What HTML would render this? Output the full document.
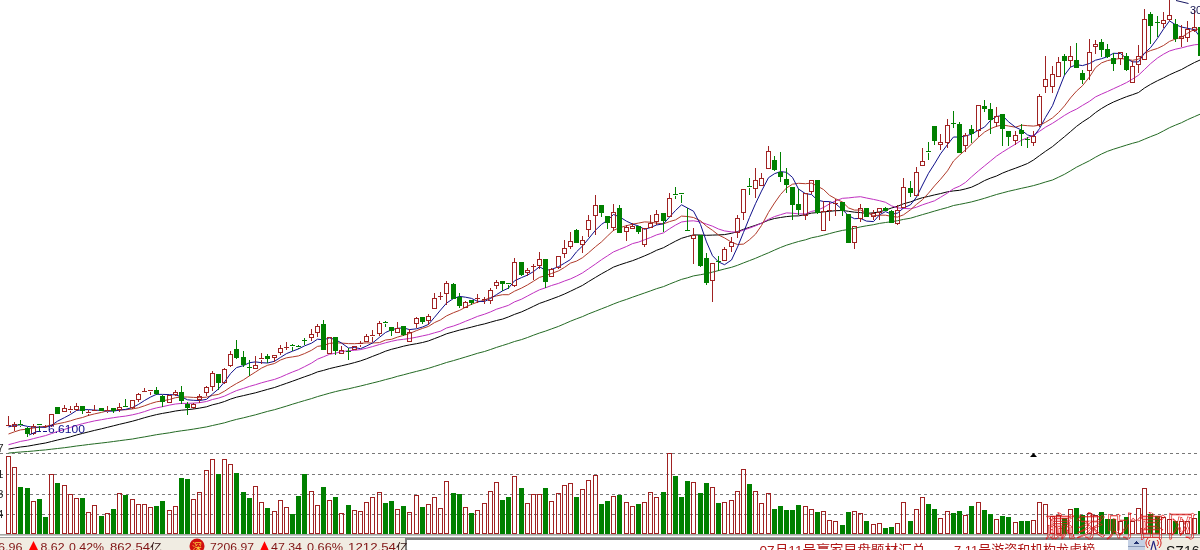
<!DOCTYPE html>
<html><head><meta charset="utf-8"><title>K线图</title>
<style>html,body{margin:0;padding:0;background:#fff;overflow:hidden}svg{display:block}</style>
</head><body>
<svg width="1200" height="550" viewBox="0 0 1200 550">
<rect x="0" y="0" width="1200" height="550" fill="#ffffff"/>
<g stroke="#787878" stroke-width="1" stroke-dasharray="3 3" shape-rendering="crispEdges">
<line x1="0" y1="453.5" x2="1200" y2="453.5"/>
<line x1="0" y1="474.5" x2="1200" y2="474.5"/>
<line x1="0" y1="494.5" x2="1200" y2="494.5"/>
<line x1="0" y1="514.5" x2="1200" y2="514.5"/>
</g>
<g shape-rendering="crispEdges">
<rect x="6.5" y="456.5" width="4" height="77" fill="none" stroke="#a02222" stroke-width="1"/>
<rect x="12.5" y="467.5" width="4" height="66" fill="none" stroke="#a02222" stroke-width="1"/>
<rect x="18" y="487" width="5" height="47" fill="#008000"/>
<rect x="25" y="488" width="5" height="46" fill="#008000"/>
<rect x="31.5" y="501.5" width="4" height="32" fill="none" stroke="#a02222" stroke-width="1"/>
<rect x="37" y="499" width="5" height="35" fill="#008000"/>
<rect x="43" y="517" width="5" height="17" fill="#008000"/>
<rect x="49.5" y="474.5" width="4" height="59" fill="none" stroke="#a02222" stroke-width="1"/>
<rect x="55" y="483" width="5" height="51" fill="#008000"/>
<rect x="62.5" y="485.5" width="4" height="48" fill="none" stroke="#a02222" stroke-width="1"/>
<rect x="68.5" y="494.5" width="4" height="39" fill="none" stroke="#a02222" stroke-width="1"/>
<rect x="74.5" y="498.5" width="4" height="35" fill="none" stroke="#a02222" stroke-width="1"/>
<rect x="80" y="498" width="5" height="36" fill="#008000"/>
<rect x="86.5" y="512.5" width="4" height="21" fill="none" stroke="#a02222" stroke-width="1"/>
<rect x="92.5" y="505.5" width="4" height="28" fill="none" stroke="#a02222" stroke-width="1"/>
<rect x="99" y="516" width="5" height="18" fill="#008000"/>
<rect x="105.5" y="513.5" width="4" height="20" fill="none" stroke="#a02222" stroke-width="1"/>
<rect x="111" y="509" width="5" height="25" fill="#008000"/>
<rect x="117.5" y="493.5" width="4" height="40" fill="none" stroke="#a02222" stroke-width="1"/>
<rect x="123" y="495" width="5" height="39" fill="#008000"/>
<rect x="130.5" y="499.5" width="4" height="34" fill="none" stroke="#a02222" stroke-width="1"/>
<rect x="136.5" y="504.5" width="4" height="29" fill="none" stroke="#a02222" stroke-width="1"/>
<rect x="142.5" y="504.5" width="4" height="29" fill="none" stroke="#a02222" stroke-width="1"/>
<rect x="148.5" y="507.5" width="4" height="26" fill="none" stroke="#a02222" stroke-width="1"/>
<rect x="154" y="506" width="5" height="28" fill="#008000"/>
<rect x="160" y="501" width="5" height="33" fill="#008000"/>
<rect x="167.5" y="510.5" width="4" height="23" fill="none" stroke="#a02222" stroke-width="1"/>
<rect x="173.5" y="506.5" width="4" height="27" fill="none" stroke="#a02222" stroke-width="1"/>
<rect x="179" y="478" width="5" height="56" fill="#008000"/>
<rect x="185" y="479" width="5" height="55" fill="#008000"/>
<rect x="191.5" y="499.5" width="4" height="34" fill="none" stroke="#a02222" stroke-width="1"/>
<rect x="197.5" y="492.5" width="4" height="41" fill="none" stroke="#a02222" stroke-width="1"/>
<rect x="204.5" y="470.5" width="4" height="63" fill="none" stroke="#a02222" stroke-width="1"/>
<rect x="210.5" y="459.5" width="4" height="74" fill="none" stroke="#a02222" stroke-width="1"/>
<rect x="216" y="474" width="5" height="60" fill="#008000"/>
<rect x="222.5" y="459.5" width="4" height="74" fill="none" stroke="#a02222" stroke-width="1"/>
<rect x="228.5" y="464.5" width="4" height="69" fill="none" stroke="#a02222" stroke-width="1"/>
<rect x="234" y="473" width="5" height="61" fill="#008000"/>
<rect x="241" y="492" width="5" height="42" fill="#008000"/>
<rect x="247" y="498" width="5" height="36" fill="#008000"/>
<rect x="253.5" y="486.5" width="4" height="47" fill="none" stroke="#a02222" stroke-width="1"/>
<rect x="259.5" y="502.5" width="4" height="31" fill="none" stroke="#a02222" stroke-width="1"/>
<rect x="265" y="508" width="5" height="26" fill="#008000"/>
<rect x="272.5" y="511.5" width="4" height="22" fill="none" stroke="#a02222" stroke-width="1"/>
<rect x="278.5" y="500.5" width="4" height="33" fill="none" stroke="#a02222" stroke-width="1"/>
<rect x="284.5" y="507.5" width="4" height="26" fill="none" stroke="#a02222" stroke-width="1"/>
<rect x="290" y="514" width="5" height="20" fill="#008000"/>
<rect x="296" y="496" width="5" height="38" fill="#008000"/>
<rect x="302" y="474" width="5" height="60" fill="#008000"/>
<rect x="309.5" y="491.5" width="4" height="42" fill="none" stroke="#a02222" stroke-width="1"/>
<rect x="315.5" y="505.5" width="4" height="28" fill="none" stroke="#a02222" stroke-width="1"/>
<rect x="321" y="487" width="5" height="47" fill="#008000"/>
<rect x="327.5" y="500.5" width="4" height="33" fill="none" stroke="#a02222" stroke-width="1"/>
<rect x="333" y="497" width="5" height="37" fill="#008000"/>
<rect x="339.5" y="513.5" width="4" height="20" fill="none" stroke="#a02222" stroke-width="1"/>
<rect x="346" y="505" width="5" height="29" fill="#008000"/>
<rect x="352.5" y="510.5" width="4" height="23" fill="none" stroke="#a02222" stroke-width="1"/>
<rect x="358.5" y="511.5" width="4" height="22" fill="none" stroke="#a02222" stroke-width="1"/>
<rect x="364.5" y="502.5" width="4" height="31" fill="none" stroke="#a02222" stroke-width="1"/>
<rect x="370.5" y="497.5" width="4" height="36" fill="none" stroke="#a02222" stroke-width="1"/>
<rect x="377.5" y="492.5" width="4" height="41" fill="none" stroke="#a02222" stroke-width="1"/>
<rect x="383" y="503" width="5" height="31" fill="#008000"/>
<rect x="389" y="501" width="5" height="33" fill="#008000"/>
<rect x="395.5" y="509.5" width="4" height="24" fill="none" stroke="#a02222" stroke-width="1"/>
<rect x="401" y="506" width="5" height="28" fill="#008000"/>
<rect x="407.5" y="512.5" width="4" height="21" fill="none" stroke="#a02222" stroke-width="1"/>
<rect x="414.5" y="495.5" width="4" height="38" fill="none" stroke="#a02222" stroke-width="1"/>
<rect x="420" y="507" width="5" height="27" fill="#008000"/>
<rect x="426.5" y="504.5" width="4" height="29" fill="none" stroke="#a02222" stroke-width="1"/>
<rect x="432.5" y="497.5" width="4" height="36" fill="none" stroke="#a02222" stroke-width="1"/>
<rect x="438.5" y="508.5" width="4" height="25" fill="none" stroke="#a02222" stroke-width="1"/>
<rect x="444.5" y="481.5" width="4" height="52" fill="none" stroke="#a02222" stroke-width="1"/>
<rect x="451" y="493" width="5" height="41" fill="#008000"/>
<rect x="457" y="494" width="5" height="40" fill="#008000"/>
<rect x="463.5" y="507.5" width="4" height="26" fill="none" stroke="#a02222" stroke-width="1"/>
<rect x="469" y="513" width="5" height="21" fill="#008000"/>
<rect x="475.5" y="510.5" width="4" height="23" fill="none" stroke="#a02222" stroke-width="1"/>
<rect x="482.5" y="503.5" width="4" height="30" fill="none" stroke="#a02222" stroke-width="1"/>
<rect x="488.5" y="491.5" width="4" height="42" fill="none" stroke="#a02222" stroke-width="1"/>
<rect x="494.5" y="482.5" width="4" height="51" fill="none" stroke="#a02222" stroke-width="1"/>
<rect x="500" y="500" width="5" height="34" fill="#008000"/>
<rect x="506" y="497" width="5" height="37" fill="#008000"/>
<rect x="512.5" y="476.5" width="4" height="57" fill="none" stroke="#a02222" stroke-width="1"/>
<rect x="519" y="488" width="5" height="46" fill="#008000"/>
<rect x="525.5" y="503.5" width="4" height="30" fill="none" stroke="#a02222" stroke-width="1"/>
<rect x="531.5" y="494.5" width="4" height="39" fill="none" stroke="#a02222" stroke-width="1"/>
<rect x="537.5" y="494.5" width="4" height="39" fill="none" stroke="#a02222" stroke-width="1"/>
<rect x="543" y="488" width="5" height="46" fill="#008000"/>
<rect x="549.5" y="501.5" width="4" height="32" fill="none" stroke="#a02222" stroke-width="1"/>
<rect x="556.5" y="493.5" width="4" height="40" fill="none" stroke="#a02222" stroke-width="1"/>
<rect x="562.5" y="485.5" width="4" height="48" fill="none" stroke="#a02222" stroke-width="1"/>
<rect x="568.5" y="483.5" width="4" height="50" fill="none" stroke="#a02222" stroke-width="1"/>
<rect x="574" y="497" width="5" height="37" fill="#008000"/>
<rect x="580.5" y="489.5" width="4" height="44" fill="none" stroke="#a02222" stroke-width="1"/>
<rect x="586.5" y="480.5" width="4" height="53" fill="none" stroke="#a02222" stroke-width="1"/>
<rect x="593.5" y="475.5" width="4" height="58" fill="none" stroke="#a02222" stroke-width="1"/>
<rect x="599" y="504" width="5" height="30" fill="#008000"/>
<rect x="605" y="501" width="5" height="33" fill="#008000"/>
<rect x="611.5" y="496.5" width="4" height="37" fill="none" stroke="#a02222" stroke-width="1"/>
<rect x="617" y="495" width="5" height="39" fill="#008000"/>
<rect x="624.5" y="502.5" width="4" height="31" fill="none" stroke="#a02222" stroke-width="1"/>
<rect x="630.5" y="506.5" width="4" height="27" fill="none" stroke="#a02222" stroke-width="1"/>
<rect x="636" y="504" width="5" height="30" fill="#008000"/>
<rect x="642.5" y="502.5" width="4" height="31" fill="none" stroke="#a02222" stroke-width="1"/>
<rect x="648.5" y="492.5" width="4" height="41" fill="none" stroke="#a02222" stroke-width="1"/>
<rect x="654.5" y="497.5" width="4" height="36" fill="none" stroke="#a02222" stroke-width="1"/>
<rect x="661" y="492" width="5" height="42" fill="#008000"/>
<rect x="667.5" y="453.5" width="4" height="80" fill="none" stroke="#a02222" stroke-width="1"/>
<rect x="673" y="476" width="5" height="58" fill="#008000"/>
<rect x="679" y="497" width="5" height="37" fill="#008000"/>
<rect x="685" y="481" width="5" height="53" fill="#008000"/>
<rect x="691.5" y="482.5" width="4" height="51" fill="none" stroke="#a02222" stroke-width="1"/>
<rect x="698" y="493" width="5" height="41" fill="#008000"/>
<rect x="704" y="483" width="5" height="51" fill="#008000"/>
<rect x="710.5" y="487.5" width="4" height="46" fill="none" stroke="#a02222" stroke-width="1"/>
<rect x="716" y="503" width="5" height="31" fill="#008000"/>
<rect x="722.5" y="502.5" width="4" height="31" fill="none" stroke="#a02222" stroke-width="1"/>
<rect x="729.5" y="500.5" width="4" height="33" fill="none" stroke="#a02222" stroke-width="1"/>
<rect x="735.5" y="491.5" width="4" height="42" fill="none" stroke="#a02222" stroke-width="1"/>
<rect x="741.5" y="469.5" width="4" height="64" fill="none" stroke="#a02222" stroke-width="1"/>
<rect x="747" y="484" width="5" height="50" fill="#008000"/>
<rect x="753.5" y="491.5" width="4" height="42" fill="none" stroke="#a02222" stroke-width="1"/>
<rect x="759.5" y="503.5" width="4" height="30" fill="none" stroke="#a02222" stroke-width="1"/>
<rect x="766.5" y="493.5" width="4" height="40" fill="none" stroke="#a02222" stroke-width="1"/>
<rect x="772" y="509" width="5" height="25" fill="#008000"/>
<rect x="778" y="506" width="5" height="28" fill="#008000"/>
<rect x="784" y="510" width="5" height="24" fill="#008000"/>
<rect x="790" y="510" width="5" height="24" fill="#008000"/>
<rect x="796" y="505" width="5" height="29" fill="#008000"/>
<rect x="803.5" y="506.5" width="4" height="27" fill="none" stroke="#a02222" stroke-width="1"/>
<rect x="809.5" y="509.5" width="4" height="24" fill="none" stroke="#a02222" stroke-width="1"/>
<rect x="815" y="512" width="5" height="22" fill="#008000"/>
<rect x="821.5" y="511.5" width="4" height="22" fill="none" stroke="#a02222" stroke-width="1"/>
<rect x="827.5" y="520.5" width="4" height="13" fill="none" stroke="#a02222" stroke-width="1"/>
<rect x="833.5" y="521.5" width="4" height="12" fill="none" stroke="#a02222" stroke-width="1"/>
<rect x="840" y="525" width="5" height="9" fill="#008000"/>
<rect x="846" y="512" width="5" height="22" fill="#008000"/>
<rect x="852.5" y="511.5" width="4" height="22" fill="none" stroke="#a02222" stroke-width="1"/>
<rect x="858.5" y="513.5" width="4" height="20" fill="none" stroke="#a02222" stroke-width="1"/>
<rect x="864" y="521" width="5" height="13" fill="#008000"/>
<rect x="871.5" y="524.5" width="4" height="9" fill="none" stroke="#a02222" stroke-width="1"/>
<rect x="877.5" y="523.5" width="4" height="10" fill="none" stroke="#a02222" stroke-width="1"/>
<rect x="883" y="528" width="5" height="6" fill="#008000"/>
<rect x="889" y="527" width="5" height="7" fill="#008000"/>
<rect x="895.5" y="523.5" width="4" height="10" fill="none" stroke="#a02222" stroke-width="1"/>
<rect x="901.5" y="502.5" width="4" height="31" fill="none" stroke="#a02222" stroke-width="1"/>
<rect x="908" y="521" width="5" height="13" fill="#008000"/>
<rect x="914.5" y="509.5" width="4" height="24" fill="none" stroke="#a02222" stroke-width="1"/>
<rect x="920.5" y="497.5" width="4" height="36" fill="none" stroke="#a02222" stroke-width="1"/>
<rect x="926" y="504" width="5" height="30" fill="#008000"/>
<rect x="932" y="509" width="5" height="25" fill="#008000"/>
<rect x="938.5" y="518.5" width="4" height="15" fill="none" stroke="#a02222" stroke-width="1"/>
<rect x="945.5" y="511.5" width="4" height="22" fill="none" stroke="#a02222" stroke-width="1"/>
<rect x="951" y="513" width="5" height="21" fill="#008000"/>
<rect x="957" y="511" width="5" height="23" fill="#008000"/>
<rect x="963.5" y="515.5" width="4" height="18" fill="none" stroke="#a02222" stroke-width="1"/>
<rect x="969" y="506" width="5" height="28" fill="#008000"/>
<rect x="976.5" y="502.5" width="4" height="31" fill="none" stroke="#a02222" stroke-width="1"/>
<rect x="982" y="510" width="5" height="24" fill="#008000"/>
<rect x="988" y="514" width="5" height="20" fill="#008000"/>
<rect x="994.5" y="519.5" width="4" height="14" fill="none" stroke="#a02222" stroke-width="1"/>
<rect x="1000" y="516" width="5" height="18" fill="#008000"/>
<rect x="1006" y="517" width="5" height="17" fill="#008000"/>
<rect x="1013.5" y="522.5" width="4" height="11" fill="none" stroke="#a02222" stroke-width="1"/>
<rect x="1019" y="521" width="5" height="13" fill="#008000"/>
<rect x="1025" y="521" width="5" height="13" fill="#008000"/>
<rect x="1031.5" y="520.5" width="4" height="13" fill="none" stroke="#a02222" stroke-width="1"/>
<rect x="1037.5" y="502.5" width="4" height="31" fill="none" stroke="#a02222" stroke-width="1"/>
<rect x="1043.5" y="504.5" width="4" height="29" fill="none" stroke="#a02222" stroke-width="1"/>
<rect x="1050.5" y="516.5" width="4" height="17" fill="none" stroke="#a02222" stroke-width="1"/>
<rect x="1056.5" y="515.5" width="4" height="18" fill="none" stroke="#a02222" stroke-width="1"/>
<rect x="1062" y="518" width="5" height="16" fill="#008000"/>
<rect x="1068.5" y="509.5" width="4" height="24" fill="none" stroke="#a02222" stroke-width="1"/>
<rect x="1074" y="508" width="5" height="26" fill="#008000"/>
<rect x="1080" y="515" width="5" height="19" fill="#008000"/>
<rect x="1087.5" y="513.5" width="4" height="20" fill="none" stroke="#a02222" stroke-width="1"/>
<rect x="1093.5" y="515.5" width="4" height="18" fill="none" stroke="#a02222" stroke-width="1"/>
<rect x="1099" y="512" width="5" height="22" fill="#008000"/>
<rect x="1105" y="519" width="5" height="15" fill="#008000"/>
<rect x="1111" y="519" width="5" height="15" fill="#008000"/>
<rect x="1118.5" y="521.5" width="4" height="12" fill="none" stroke="#a02222" stroke-width="1"/>
<rect x="1124" y="517" width="5" height="17" fill="#008000"/>
<rect x="1130.5" y="521.5" width="4" height="12" fill="none" stroke="#a02222" stroke-width="1"/>
<rect x="1136.5" y="508.5" width="4" height="25" fill="none" stroke="#a02222" stroke-width="1"/>
<rect x="1142.5" y="488.5" width="4" height="45" fill="none" stroke="#a02222" stroke-width="1"/>
<rect x="1148" y="514" width="5" height="20" fill="#008000"/>
<rect x="1155" y="516" width="5" height="18" fill="#008000"/>
<rect x="1161.5" y="517.5" width="4" height="16" fill="none" stroke="#a02222" stroke-width="1"/>
<rect x="1167.5" y="519.5" width="4" height="14" fill="none" stroke="#a02222" stroke-width="1"/>
<rect x="1173" y="521" width="5" height="13" fill="#008000"/>
<rect x="1179.5" y="521.5" width="4" height="12" fill="none" stroke="#a02222" stroke-width="1"/>
<rect x="1185.5" y="521.5" width="4" height="12" fill="none" stroke="#a02222" stroke-width="1"/>
<rect x="1192.5" y="518.5" width="4" height="15" fill="none" stroke="#a02222" stroke-width="1"/>
<rect x="1198" y="511" width="5" height="23" fill="#008000"/>
</g>
<polyline points="8.5,453.1 14.5,452.5 20.5,452.0 27.5,451.5 33.5,451.0 39.5,450.4 45.5,449.9 51.5,449.2 57.5,448.5 64.5,447.7 70.5,446.9 76.5,446.0 82.5,445.3 88.5,444.5 94.5,443.8 101.5,443.0 107.5,442.3 113.5,441.5 119.5,440.7 125.5,439.9 132.5,439.0 138.5,437.9 144.5,436.9 150.5,435.8 156.5,434.7 162.5,433.8 169.5,432.8 175.5,431.7 181.5,430.8 187.5,430.0 193.5,429.1 199.5,428.1 206.5,426.9 212.5,425.5 218.5,424.2 224.5,422.8 230.5,421.0 236.5,419.4 243.5,417.8 249.5,416.3 255.5,414.8 261.5,413.1 267.5,411.4 274.5,409.7 280.5,407.9 286.5,406.1 292.5,404.2 298.5,402.4 304.5,400.6 311.5,398.6 317.5,396.6 323.5,394.9 329.5,393.2 335.5,391.6 341.5,390.2 348.5,388.8 354.5,387.4 360.5,386.0 366.5,384.5 372.5,383.0 379.5,381.3 385.5,379.6 391.5,378.1 397.5,376.3 403.5,374.8 409.5,373.2 416.5,371.4 422.5,369.9 428.5,368.3 434.5,366.4 440.5,364.5 446.5,362.5 453.5,360.6 459.5,358.8 465.5,357.0 471.5,355.2 477.5,353.3 484.5,351.5 490.5,349.5 496.5,347.4 502.5,345.5 508.5,343.6 514.5,341.5 521.5,339.6 527.5,337.5 533.5,335.2 539.5,333.0 545.5,331.1 551.5,328.9 558.5,326.4 564.5,323.8 570.5,321.2 576.5,318.8 582.5,316.6 588.5,313.9 595.5,311.2 601.5,308.8 607.5,306.5 613.5,304.0 619.5,301.7 626.5,299.4 632.5,297.2 638.5,295.1 644.5,293.0 650.5,290.9 656.5,288.7 663.5,286.6 669.5,284.1 675.5,281.7 681.5,279.4 687.5,277.8 693.5,275.9 700.5,274.7 706.5,273.6 712.5,272.1 718.5,270.6 724.5,269.0 731.5,267.3 737.5,265.3 743.5,262.9 749.5,260.6 755.5,258.3 761.5,255.7 768.5,252.8 774.5,250.1 780.5,247.5 786.5,245.2 792.5,243.3 798.5,241.5 805.5,239.8 811.5,237.8 817.5,236.6 823.5,235.2 829.5,233.6 835.5,232.0 842.5,230.4 848.5,229.5 854.5,228.3 860.5,226.9 866.5,225.8 873.5,224.7 879.5,223.4 885.5,222.5 891.5,221.7 897.5,220.7 903.5,219.4 910.5,218.2 916.5,216.4 922.5,214.6 928.5,212.9 934.5,211.1 940.5,209.4 947.5,207.5 953.5,205.5 959.5,204.4 965.5,203.2 971.5,201.9 978.5,200.0 984.5,198.3 990.5,196.4 996.5,194.5 1002.5,192.9 1008.5,191.3 1015.5,189.7 1021.5,188.3 1027.5,187.0 1033.5,185.6 1039.5,183.9 1045.5,182.0 1052.5,180.0 1058.5,177.2 1064.5,174.3 1070.5,170.8 1076.5,167.2 1082.5,164.2 1089.5,160.7 1095.5,157.2 1101.5,154.0 1107.5,151.3 1113.5,149.2 1120.5,147.0 1126.5,145.1 1132.5,143.3 1138.5,141.7 1144.5,139.2 1150.5,136.7 1157.5,134.0 1163.5,130.9 1169.5,127.7 1175.5,125.1 1181.5,122.7 1187.5,119.7 1194.5,116.6 1200.5,114.0" fill="none" stroke="#246a24" stroke-width="1"/>
<polyline points="8.5,449.1 14.5,448.0 20.5,447.0 27.5,446.2 33.5,445.1 39.5,444.0 45.5,443.0 51.5,441.5 57.5,440.0 64.5,438.4 70.5,436.8 76.5,435.0 82.5,433.4 88.5,431.9 94.5,430.4 101.5,428.8 107.5,427.3 113.5,425.8 119.5,424.3 125.5,422.9 132.5,421.2 138.5,419.5 144.5,417.7 150.5,416.1 156.5,414.6 162.5,413.4 169.5,412.2 175.5,411.0 181.5,410.2 187.5,409.7 193.5,409.0 199.5,408.1 206.5,406.8 212.5,404.8 218.5,403.4 224.5,401.5 230.5,399.1 236.5,397.2 243.5,395.6 249.5,394.2 255.5,392.8 261.5,391.1 267.5,389.4 274.5,387.5 280.5,385.4 286.5,383.3 292.5,381.2 298.5,379.0 304.5,376.8 311.5,374.4 317.5,371.9 323.5,370.4 329.5,368.6 335.5,367.2 341.5,365.8 348.5,364.2 354.5,362.6 360.5,360.9 366.5,358.8 372.5,356.4 379.5,353.7 385.5,351.2 391.5,349.3 397.5,347.8 403.5,346.2 409.5,344.9 416.5,343.7 422.5,342.5 428.5,340.9 434.5,338.6 440.5,336.3 446.5,333.8 453.5,331.8 459.5,330.1 465.5,328.6 471.5,327.1 477.5,325.5 484.5,323.9 490.5,322.2 496.5,320.5 502.5,319.1 508.5,316.9 514.5,314.4 521.5,311.9 527.5,309.2 533.5,306.3 539.5,303.4 545.5,301.3 551.5,299.1 558.5,296.5 564.5,294.0 570.5,291.2 576.5,288.3 582.5,285.4 588.5,281.6 595.5,277.4 601.5,273.8 607.5,270.5 613.5,267.1 619.5,264.9 626.5,262.6 632.5,260.7 638.5,258.4 644.5,255.9 650.5,253.3 656.5,250.3 663.5,247.7 669.5,244.4 675.5,241.2 681.5,238.3 687.5,236.5 693.5,234.9 700.5,235.0 706.5,235.3 712.5,235.1 718.5,234.9 724.5,234.6 731.5,233.3 737.5,231.6 743.5,229.3 749.5,227.3 755.5,225.3 761.5,223.2 768.5,220.2 774.5,218.5 780.5,217.5 786.5,216.6 792.5,216.0 798.5,215.9 805.5,214.6 811.5,213.1 817.5,212.6 823.5,211.9 829.5,211.3 835.5,210.7 842.5,210.5 848.5,211.3 854.5,212.2 860.5,212.6 866.5,213.4 873.5,212.8 879.5,211.9 885.5,210.1 891.5,208.0 897.5,206.3 903.5,203.8 910.5,201.9 916.5,199.6 922.5,197.7 928.5,196.4 934.5,194.9 940.5,193.6 947.5,191.8 953.5,190.9 959.5,190.3 965.5,188.9 971.5,187.2 978.5,183.9 984.5,180.6 990.5,178.1 996.5,176.0 1002.5,173.1 1008.5,170.7 1015.5,168.2 1021.5,165.9 1027.5,163.5 1033.5,160.0 1039.5,155.6 1045.5,151.3 1052.5,146.6 1058.5,141.6 1064.5,136.7 1070.5,131.6 1076.5,126.4 1082.5,122.0 1089.5,117.5 1095.5,112.6 1101.5,108.5 1107.5,105.0 1113.5,102.0 1120.5,99.1 1126.5,96.7 1132.5,94.7 1138.5,92.5 1144.5,88.0 1150.5,84.4 1157.5,80.7 1163.5,77.9 1169.5,74.8 1175.5,72.1 1181.5,69.5 1187.5,66.2 1194.5,62.5 1200.5,59.8" fill="none" stroke="#000000" stroke-width="1"/>
<polyline points="8.5,444.7 14.5,443.1 20.5,441.4 27.5,440.2 33.5,438.6 39.5,437.1 45.5,435.6 51.5,433.6 57.5,431.5 64.5,429.4 70.5,427.4 76.5,425.4 82.5,423.7 88.5,422.3 94.5,420.9 101.5,419.7 107.5,418.6 113.5,417.7 119.5,416.8 125.5,416.1 132.5,414.8 138.5,413.4 144.5,411.6 150.5,409.5 156.5,407.9 162.5,406.7 169.5,405.1 175.5,404.0 181.5,403.4 187.5,403.4 193.5,403.1 199.5,402.7 206.5,401.5 212.5,399.5 218.5,398.1 224.5,396.1 230.5,393.3 236.5,390.6 243.5,388.4 249.5,386.4 255.5,384.7 261.5,382.8 267.5,381.2 274.5,379.4 280.5,377.2 286.5,374.5 292.5,372.0 298.5,369.7 304.5,366.7 311.5,363.1 317.5,359.2 323.5,356.8 329.5,354.3 335.5,353.2 341.5,351.6 348.5,350.7 354.5,350.3 360.5,349.6 366.5,348.2 372.5,346.6 379.5,344.5 385.5,342.8 391.5,341.3 397.5,340.0 403.5,339.3 409.5,338.5 416.5,337.2 422.5,335.9 428.5,334.6 434.5,332.8 440.5,331.2 446.5,328.0 453.5,326.0 459.5,323.8 465.5,321.3 471.5,318.9 477.5,316.4 484.5,314.2 490.5,311.9 496.5,309.2 502.5,307.3 508.5,305.3 514.5,301.9 521.5,299.2 527.5,296.0 533.5,292.8 539.5,289.8 545.5,287.8 551.5,285.5 558.5,283.4 564.5,281.0 570.5,278.9 576.5,276.1 582.5,272.9 588.5,268.8 595.5,264.0 601.5,259.7 607.5,255.8 613.5,251.9 619.5,249.4 626.5,246.5 632.5,243.6 638.5,242.1 644.5,239.8 650.5,237.5 656.5,234.9 663.5,232.9 669.5,228.8 675.5,225.1 681.5,222.0 687.5,221.1 693.5,220.8 700.5,222.0 706.5,224.1 712.5,226.2 718.5,229.0 724.5,230.9 731.5,231.9 737.5,232.2 743.5,230.1 749.5,228.1 755.5,225.8 761.5,223.2 768.5,219.3 774.5,216.6 780.5,214.7 786.5,212.9 792.5,213.2 798.5,213.9 805.5,213.9 811.5,211.4 817.5,210.2 823.5,207.5 829.5,203.9 835.5,200.9 842.5,198.3 848.5,197.9 854.5,197.2 860.5,196.7 866.5,198.0 873.5,199.4 879.5,200.7 885.5,202.3 891.5,205.8 897.5,207.9 903.5,208.4 910.5,208.8 916.5,207.2 922.5,204.8 928.5,202.8 934.5,200.8 940.5,197.3 947.5,193.0 953.5,188.7 959.5,186.2 965.5,182.4 971.5,176.9 978.5,170.8 984.5,165.9 990.5,161.0 996.5,156.1 1002.5,152.1 1008.5,148.4 1015.5,144.1 1021.5,140.2 1027.5,137.8 1033.5,135.1 1039.5,131.3 1045.5,127.2 1052.5,123.3 1058.5,119.4 1064.5,115.4 1070.5,111.9 1076.5,109.1 1082.5,105.4 1089.5,101.3 1095.5,96.9 1101.5,94.1 1107.5,91.5 1113.5,88.7 1120.5,85.5 1126.5,82.6 1132.5,79.1 1138.5,75.2 1144.5,69.5 1150.5,63.7 1157.5,58.0 1163.5,54.2 1169.5,51.0 1175.5,49.2 1181.5,47.9 1187.5,46.3 1194.5,44.8 1200.5,44.2" fill="none" stroke="#c030c0" stroke-width="1"/>
<polyline points="8.5,434.0 14.5,431.8 20.5,429.9 27.5,429.1 33.5,428.0 39.5,427.0 45.5,426.4 51.5,425.0 57.5,423.8 64.5,422.4 70.5,420.8 76.5,418.9 82.5,417.5 88.5,415.4 94.5,413.9 101.5,412.4 107.5,410.8 113.5,410.4 119.5,409.9 125.5,409.8 132.5,408.9 138.5,407.8 144.5,405.8 150.5,403.6 156.5,401.8 162.5,400.9 169.5,399.5 175.5,397.7 181.5,397.0 187.5,397.0 193.5,397.4 199.5,397.6 206.5,397.2 212.5,395.4 218.5,394.4 224.5,391.2 230.5,387.1 236.5,383.5 243.5,379.8 249.5,375.8 255.5,372.0 261.5,368.1 267.5,365.3 274.5,363.5 280.5,360.0 286.5,357.8 292.5,356.9 298.5,355.9 304.5,353.6 311.5,350.3 317.5,346.4 323.5,345.5 329.5,343.4 335.5,342.8 341.5,343.1 348.5,343.6 354.5,343.7 360.5,343.3 366.5,342.9 372.5,343.0 379.5,342.6 385.5,340.0 391.5,339.3 397.5,337.1 403.5,335.4 409.5,333.5 416.5,330.6 422.5,328.4 428.5,326.4 434.5,322.6 440.5,319.9 446.5,315.9 453.5,312.7 459.5,310.4 465.5,307.2 471.5,304.3 477.5,302.2 484.5,300.0 490.5,297.5 496.5,295.9 502.5,294.7 508.5,294.7 514.5,291.2 521.5,288.1 527.5,284.9 533.5,281.2 539.5,277.4 545.5,275.6 551.5,273.5 558.5,270.9 564.5,267.4 570.5,263.1 576.5,261.1 582.5,257.7 588.5,252.8 595.5,246.7 601.5,241.9 607.5,236.0 613.5,230.3 619.5,227.8 626.5,225.7 632.5,224.2 638.5,223.1 644.5,221.9 650.5,222.2 656.5,223.1 663.5,223.9 669.5,221.6 675.5,219.9 681.5,216.1 687.5,216.5 693.5,217.5 700.5,220.8 706.5,226.2 712.5,230.3 718.5,235.0 724.5,237.9 731.5,242.2 737.5,244.5 743.5,244.1 749.5,239.7 755.5,234.2 761.5,225.5 768.5,212.4 774.5,203.0 780.5,194.5 786.5,188.0 792.5,184.2 798.5,183.3 805.5,183.7 811.5,183.1 817.5,186.2 823.5,189.5 829.5,195.3 835.5,198.7 842.5,202.1 848.5,207.9 854.5,210.1 860.5,210.0 866.5,212.4 873.5,215.7 879.5,215.2 885.5,215.2 891.5,216.4 897.5,217.1 903.5,214.8 910.5,209.8 916.5,204.4 922.5,199.7 928.5,193.2 934.5,185.9 940.5,179.3 947.5,170.8 953.5,161.0 959.5,155.2 965.5,149.9 971.5,144.1 978.5,137.3 984.5,132.1 990.5,128.7 996.5,126.3 1002.5,124.9 1008.5,126.0 1015.5,127.2 1021.5,125.2 1027.5,125.7 1033.5,126.1 1039.5,125.2 1045.5,122.3 1052.5,117.9 1058.5,112.6 1064.5,105.9 1070.5,97.9 1076.5,91.1 1082.5,85.7 1089.5,76.9 1095.5,67.6 1101.5,62.9 1107.5,60.6 1113.5,59.4 1120.5,58.5 1126.5,59.3 1132.5,60.3 1138.5,59.2 1144.5,53.2 1150.5,50.6 1157.5,48.4 1163.5,45.5 1169.5,41.4 1175.5,39.0 1181.5,37.4 1187.5,33.3 1194.5,29.3 1200.5,29.2" fill="none" stroke="#b03a2a" stroke-width="1"/>
<polyline points="8.5,426.9 14.5,425.4 20.5,424.8 27.5,426.4 33.5,427.2 39.5,427.2 45.5,427.4 51.5,425.3 57.5,421.2 64.5,417.6 70.5,414.4 76.5,410.5 82.5,409.7 88.5,409.6 94.5,410.1 101.5,410.4 107.5,411.1 113.5,411.1 119.5,410.1 125.5,409.4 132.5,407.5 138.5,404.4 144.5,400.5 150.5,397.1 156.5,394.3 162.5,394.4 169.5,394.6 175.5,394.9 181.5,396.9 187.5,399.8 193.5,400.3 199.5,400.5 206.5,399.4 212.5,394.0 218.5,388.9 224.5,382.0 230.5,373.6 236.5,367.6 243.5,365.6 249.5,362.7 255.5,361.9 261.5,362.7 267.5,363.0 274.5,361.3 280.5,357.4 286.5,353.6 292.5,351.2 298.5,348.9 304.5,345.9 311.5,343.2 317.5,339.2 323.5,339.8 329.5,337.9 335.5,339.7 341.5,343.0 348.5,348.0 354.5,347.5 360.5,348.7 366.5,346.0 372.5,343.0 379.5,337.3 385.5,332.5 391.5,329.8 397.5,328.3 403.5,327.9 409.5,329.6 416.5,328.8 422.5,327.0 428.5,324.4 434.5,317.3 440.5,310.1 446.5,303.1 453.5,298.5 459.5,296.4 465.5,297.2 471.5,298.4 477.5,301.3 484.5,301.5 490.5,298.5 496.5,294.6 502.5,290.9 508.5,288.1 514.5,280.8 521.5,277.6 527.5,275.1 533.5,271.6 539.5,266.7 545.5,270.4 551.5,269.4 558.5,266.7 564.5,263.2 570.5,259.5 576.5,251.8 582.5,246.0 588.5,238.8 595.5,230.2 601.5,224.4 607.5,220.3 613.5,214.5 619.5,216.8 626.5,221.2 632.5,224.0 638.5,226.0 644.5,229.3 650.5,227.5 656.5,225.0 663.5,223.8 669.5,217.1 675.5,210.5 681.5,204.8 687.5,208.0 693.5,211.2 700.5,224.5 706.5,241.9 712.5,255.7 718.5,261.9 724.5,264.7 731.5,260.0 737.5,247.1 743.5,232.4 749.5,217.5 755.5,203.7 761.5,191.1 768.5,177.7 774.5,173.7 780.5,171.6 786.5,172.3 792.5,177.4 798.5,189.0 805.5,193.7 811.5,194.5 817.5,200.1 823.5,201.5 829.5,201.6 835.5,203.6 842.5,209.7 848.5,215.7 854.5,218.7 860.5,218.4 866.5,221.1 873.5,221.6 879.5,214.8 885.5,211.6 891.5,214.3 897.5,213.1 903.5,208.0 910.5,204.8 916.5,197.1 922.5,185.0 928.5,173.3 934.5,163.9 940.5,153.9 947.5,144.5 953.5,137.0 959.5,137.1 965.5,136.0 971.5,134.2 978.5,130.1 984.5,127.1 990.5,120.4 996.5,116.5 1002.5,115.5 1008.5,121.8 1015.5,127.2 1021.5,130.1 1027.5,134.9 1033.5,136.7 1039.5,128.6 1045.5,117.4 1052.5,105.7 1058.5,90.3 1064.5,75.1 1070.5,67.1 1076.5,64.7 1082.5,65.6 1089.5,63.5 1095.5,60.2 1101.5,58.7 1107.5,56.6 1113.5,53.3 1120.5,53.5 1126.5,58.5 1132.5,61.9 1138.5,61.9 1144.5,53.2 1150.5,47.7 1157.5,38.3 1163.5,29.1 1169.5,20.9 1175.5,24.7 1181.5,27.0 1187.5,28.3 1194.5,29.6 1200.5,37.6" fill="none" stroke="#10108a" stroke-width="1"/>
<g shape-rendering="crispEdges">
<line x1="8.5" y1="416" x2="8.5" y2="425" stroke="#a02222"/>
<rect x="6" y="425" width="5" height="1" fill="#a02222"/>
<line x1="14.5" y1="422" x2="14.5" y2="424" stroke="#a02222"/>
<line x1="14.5" y1="427" x2="14.5" y2="431" stroke="#a02222"/>
<rect x="12.5" y="424.5" width="4" height="2" fill="none" stroke="#a02222"/>
<line x1="20.5" y1="420" x2="20.5" y2="424" stroke="#008000"/>
<line x1="20.5" y1="426" x2="20.5" y2="427" stroke="#008000"/>
<rect x="18" y="424" width="5" height="1" fill="#008000"/>
<line x1="27.5" y1="427" x2="27.5" y2="428" stroke="#008000"/>
<line x1="27.5" y1="434" x2="27.5" y2="437" stroke="#008000"/>
<rect x="25" y="428" width="5" height="6" fill="#008000"/>
<line x1="33.5" y1="424" x2="33.5" y2="426" stroke="#a02222"/>
<line x1="33.5" y1="434" x2="33.5" y2="435" stroke="#a02222"/>
<rect x="31.5" y="426.5" width="4" height="7" fill="none" stroke="#a02222"/>
<line x1="39.5" y1="426" x2="39.5" y2="431" stroke="#008000"/>
<rect x="37" y="424" width="5" height="1" fill="#008000"/>
<line x1="45.5" y1="425" x2="45.5" y2="426" stroke="#a02222"/>
<line x1="45.5" y1="427" x2="45.5" y2="428" stroke="#a02222"/>
<rect x="43" y="426" width="5" height="1" fill="#a02222"/>
<line x1="51.5" y1="426" x2="51.5" y2="427" stroke="#a02222"/>
<rect x="49.5" y="414.5" width="4" height="11" fill="none" stroke="#a02222"/>
<rect x="55" y="407" width="5" height="7" fill="#008000"/>
<line x1="64.5" y1="405" x2="64.5" y2="408" stroke="#a02222"/>
<rect x="62.5" y="408.5" width="4" height="3" fill="none" stroke="#a02222"/>
<line x1="70.5" y1="406" x2="70.5" y2="409" stroke="#a02222"/>
<line x1="70.5" y1="411" x2="70.5" y2="413" stroke="#a02222"/>
<rect x="68" y="409" width="5" height="1" fill="#a02222"/>
<line x1="76.5" y1="403" x2="76.5" y2="406" stroke="#a02222"/>
<line x1="76.5" y1="410" x2="76.5" y2="411" stroke="#a02222"/>
<rect x="74.5" y="406.5" width="4" height="3" fill="none" stroke="#a02222"/>
<line x1="82.5" y1="411" x2="82.5" y2="414" stroke="#008000"/>
<rect x="80" y="406" width="5" height="5" fill="#008000"/>
<line x1="88.5" y1="410" x2="88.5" y2="412" stroke="#a02222"/>
<line x1="88.5" y1="414" x2="88.5" y2="416" stroke="#a02222"/>
<rect x="86" y="412" width="5" height="1" fill="#a02222"/>
<line x1="94.5" y1="405" x2="94.5" y2="410" stroke="#a02222"/>
<rect x="92" y="410" width="5" height="1" fill="#a02222"/>
<rect x="99" y="408" width="5" height="3" fill="#008000"/>
<line x1="107.5" y1="406" x2="107.5" y2="410" stroke="#a02222"/>
<line x1="107.5" y1="412" x2="107.5" y2="413" stroke="#a02222"/>
<rect x="105" y="410" width="5" height="1" fill="#a02222"/>
<line x1="113.5" y1="411" x2="113.5" y2="413" stroke="#008000"/>
<rect x="111" y="408" width="5" height="3" fill="#008000"/>
<line x1="119.5" y1="403" x2="119.5" y2="407" stroke="#a02222"/>
<line x1="119.5" y1="410" x2="119.5" y2="412" stroke="#a02222"/>
<rect x="117.5" y="407.5" width="4" height="2" fill="none" stroke="#a02222"/>
<line x1="125.5" y1="399" x2="125.5" y2="406" stroke="#008000"/>
<rect x="123" y="406" width="5" height="1" fill="#008000"/>
<line x1="132.5" y1="408" x2="132.5" y2="409" stroke="#a02222"/>
<rect x="130.5" y="400.5" width="4" height="7" fill="none" stroke="#a02222"/>
<line x1="138.5" y1="393" x2="138.5" y2="394" stroke="#a02222"/>
<line x1="138.5" y1="400" x2="138.5" y2="402" stroke="#a02222"/>
<rect x="136.5" y="394.5" width="4" height="5" fill="none" stroke="#a02222"/>
<line x1="144.5" y1="388" x2="144.5" y2="391" stroke="#a02222"/>
<rect x="142" y="391" width="5" height="1" fill="#a02222"/>
<line x1="150.5" y1="392" x2="150.5" y2="395" stroke="#a02222"/>
<rect x="148" y="390" width="5" height="1" fill="#a02222"/>
<line x1="156.5" y1="387" x2="156.5" y2="390" stroke="#008000"/>
<line x1="156.5" y1="394" x2="156.5" y2="395" stroke="#008000"/>
<rect x="154" y="390" width="5" height="4" fill="#008000"/>
<line x1="162.5" y1="395" x2="162.5" y2="396" stroke="#008000"/>
<line x1="162.5" y1="402" x2="162.5" y2="407" stroke="#008000"/>
<rect x="160" y="396" width="5" height="6" fill="#008000"/>
<rect x="167.5" y="395.5" width="4" height="7" fill="none" stroke="#a02222"/>
<line x1="175.5" y1="390" x2="175.5" y2="392" stroke="#a02222"/>
<line x1="175.5" y1="395" x2="175.5" y2="396" stroke="#a02222"/>
<rect x="173.5" y="392.5" width="4" height="2" fill="none" stroke="#a02222"/>
<line x1="181.5" y1="386" x2="181.5" y2="392" stroke="#008000"/>
<line x1="181.5" y1="401" x2="181.5" y2="404" stroke="#008000"/>
<rect x="179" y="392" width="5" height="9" fill="#008000"/>
<line x1="187.5" y1="402" x2="187.5" y2="404" stroke="#008000"/>
<line x1="187.5" y1="408" x2="187.5" y2="415" stroke="#008000"/>
<rect x="185" y="404" width="5" height="4" fill="#008000"/>
<line x1="193.5" y1="403" x2="193.5" y2="404" stroke="#a02222"/>
<line x1="193.5" y1="408" x2="193.5" y2="409" stroke="#a02222"/>
<rect x="191.5" y="404.5" width="4" height="3" fill="none" stroke="#a02222"/>
<line x1="199.5" y1="394" x2="199.5" y2="396" stroke="#a02222"/>
<line x1="199.5" y1="400" x2="199.5" y2="403" stroke="#a02222"/>
<rect x="197.5" y="396.5" width="4" height="3" fill="none" stroke="#a02222"/>
<line x1="206.5" y1="386" x2="206.5" y2="387" stroke="#a02222"/>
<line x1="206.5" y1="393" x2="206.5" y2="396" stroke="#a02222"/>
<rect x="204.5" y="387.5" width="4" height="5" fill="none" stroke="#a02222"/>
<line x1="212.5" y1="371" x2="212.5" y2="373" stroke="#a02222"/>
<line x1="212.5" y1="387" x2="212.5" y2="391" stroke="#a02222"/>
<rect x="210.5" y="373.5" width="4" height="13" fill="none" stroke="#a02222"/>
<line x1="218.5" y1="383" x2="218.5" y2="390" stroke="#008000"/>
<rect x="216" y="374" width="5" height="9" fill="#008000"/>
<line x1="224.5" y1="368" x2="224.5" y2="369" stroke="#a02222"/>
<line x1="224.5" y1="383" x2="224.5" y2="384" stroke="#a02222"/>
<rect x="222.5" y="369.5" width="4" height="13" fill="none" stroke="#a02222"/>
<line x1="230.5" y1="351" x2="230.5" y2="354" stroke="#a02222"/>
<line x1="230.5" y1="366" x2="230.5" y2="367" stroke="#a02222"/>
<rect x="228.5" y="354.5" width="4" height="11" fill="none" stroke="#a02222"/>
<line x1="236.5" y1="340" x2="236.5" y2="349" stroke="#008000"/>
<line x1="236.5" y1="358" x2="236.5" y2="359" stroke="#008000"/>
<rect x="234" y="349" width="5" height="9" fill="#008000"/>
<line x1="243.5" y1="351" x2="243.5" y2="357" stroke="#008000"/>
<line x1="243.5" y1="365" x2="243.5" y2="367" stroke="#008000"/>
<rect x="241" y="357" width="5" height="8" fill="#008000"/>
<line x1="249.5" y1="360" x2="249.5" y2="367" stroke="#008000"/>
<line x1="249.5" y1="368" x2="249.5" y2="376" stroke="#008000"/>
<rect x="247" y="367" width="5" height="1" fill="#008000"/>
<line x1="255.5" y1="356" x2="255.5" y2="365" stroke="#a02222"/>
<rect x="253.5" y="365.5" width="4" height="3" fill="none" stroke="#a02222"/>
<line x1="261.5" y1="353" x2="261.5" y2="358" stroke="#a02222"/>
<line x1="261.5" y1="360" x2="261.5" y2="364" stroke="#a02222"/>
<rect x="259" y="358" width="5" height="1" fill="#a02222"/>
<line x1="267.5" y1="354" x2="267.5" y2="356" stroke="#008000"/>
<line x1="267.5" y1="359" x2="267.5" y2="363" stroke="#008000"/>
<rect x="265" y="356" width="5" height="3" fill="#008000"/>
<line x1="274.5" y1="358" x2="274.5" y2="362" stroke="#a02222"/>
<rect x="272.5" y="355.5" width="4" height="2" fill="none" stroke="#a02222"/>
<line x1="280.5" y1="345" x2="280.5" y2="348" stroke="#a02222"/>
<line x1="280.5" y1="353" x2="280.5" y2="355" stroke="#a02222"/>
<rect x="278.5" y="348.5" width="4" height="4" fill="none" stroke="#a02222"/>
<line x1="286.5" y1="342" x2="286.5" y2="347" stroke="#a02222"/>
<line x1="286.5" y1="348" x2="286.5" y2="350" stroke="#a02222"/>
<rect x="284" y="347" width="5" height="1" fill="#a02222"/>
<line x1="292.5" y1="344" x2="292.5" y2="345" stroke="#008000"/>
<line x1="292.5" y1="347" x2="292.5" y2="351" stroke="#008000"/>
<rect x="290" y="345" width="5" height="1" fill="#008000"/>
<line x1="298.5" y1="345" x2="298.5" y2="346" stroke="#008000"/>
<line x1="298.5" y1="348" x2="298.5" y2="349" stroke="#008000"/>
<rect x="296" y="346" width="5" height="1" fill="#008000"/>
<line x1="304.5" y1="338" x2="304.5" y2="340" stroke="#008000"/>
<line x1="304.5" y1="341" x2="304.5" y2="345" stroke="#008000"/>
<rect x="302" y="340" width="5" height="1" fill="#008000"/>
<line x1="311.5" y1="329" x2="311.5" y2="334" stroke="#a02222"/>
<line x1="311.5" y1="338" x2="311.5" y2="341" stroke="#a02222"/>
<rect x="309.5" y="334.5" width="4" height="3" fill="none" stroke="#a02222"/>
<line x1="317.5" y1="324" x2="317.5" y2="326" stroke="#a02222"/>
<line x1="317.5" y1="333" x2="317.5" y2="337" stroke="#a02222"/>
<rect x="315.5" y="326.5" width="4" height="6" fill="none" stroke="#a02222"/>
<line x1="323.5" y1="320" x2="323.5" y2="324" stroke="#008000"/>
<rect x="321" y="324" width="5" height="26" fill="#008000"/>
<rect x="327.5" y="337.5" width="4" height="16" fill="none" stroke="#a02222"/>
<line x1="335.5" y1="351" x2="335.5" y2="355" stroke="#008000"/>
<rect x="333" y="337" width="5" height="14" fill="#008000"/>
<line x1="341.5" y1="346" x2="341.5" y2="350" stroke="#a02222"/>
<rect x="339.5" y="350.5" width="4" height="3" fill="none" stroke="#a02222"/>
<line x1="348.5" y1="348" x2="348.5" y2="351" stroke="#008000"/>
<line x1="348.5" y1="352" x2="348.5" y2="360" stroke="#008000"/>
<rect x="346" y="351" width="5" height="1" fill="#008000"/>
<rect x="352.5" y="346.5" width="4" height="3" fill="none" stroke="#a02222"/>
<line x1="360.5" y1="341" x2="360.5" y2="343" stroke="#a02222"/>
<line x1="360.5" y1="345" x2="360.5" y2="347" stroke="#a02222"/>
<rect x="358" y="343" width="5" height="1" fill="#a02222"/>
<line x1="366.5" y1="334" x2="366.5" y2="336" stroke="#a02222"/>
<rect x="364.5" y="336.5" width="4" height="5" fill="none" stroke="#a02222"/>
<line x1="372.5" y1="330" x2="372.5" y2="335" stroke="#a02222"/>
<line x1="372.5" y1="337" x2="372.5" y2="342" stroke="#a02222"/>
<rect x="370" y="335" width="5" height="1" fill="#a02222"/>
<line x1="379.5" y1="321" x2="379.5" y2="323" stroke="#a02222"/>
<line x1="379.5" y1="334" x2="379.5" y2="336" stroke="#a02222"/>
<rect x="377.5" y="323.5" width="4" height="10" fill="none" stroke="#a02222"/>
<line x1="385.5" y1="321" x2="385.5" y2="322" stroke="#008000"/>
<line x1="385.5" y1="324" x2="385.5" y2="327" stroke="#008000"/>
<rect x="383" y="322" width="5" height="1" fill="#008000"/>
<line x1="391.5" y1="331" x2="391.5" y2="336" stroke="#008000"/>
<rect x="389" y="327" width="5" height="4" fill="#008000"/>
<line x1="397.5" y1="322" x2="397.5" y2="328" stroke="#a02222"/>
<rect x="395.5" y="328.5" width="4" height="4" fill="none" stroke="#a02222"/>
<line x1="403.5" y1="335" x2="403.5" y2="336" stroke="#008000"/>
<rect x="401" y="326" width="5" height="9" fill="#008000"/>
<line x1="409.5" y1="329" x2="409.5" y2="332" stroke="#a02222"/>
<rect x="407.5" y="332.5" width="4" height="9" fill="none" stroke="#a02222"/>
<line x1="416.5" y1="317" x2="416.5" y2="318" stroke="#a02222"/>
<line x1="416.5" y1="324" x2="416.5" y2="328" stroke="#a02222"/>
<rect x="414.5" y="318.5" width="4" height="5" fill="none" stroke="#a02222"/>
<line x1="422.5" y1="322" x2="422.5" y2="324" stroke="#008000"/>
<rect x="420" y="317" width="5" height="5" fill="#008000"/>
<line x1="428.5" y1="314" x2="428.5" y2="316" stroke="#a02222"/>
<line x1="428.5" y1="321" x2="428.5" y2="325" stroke="#a02222"/>
<rect x="426.5" y="316.5" width="4" height="4" fill="none" stroke="#a02222"/>
<line x1="434.5" y1="293" x2="434.5" y2="298" stroke="#a02222"/>
<rect x="432.5" y="298.5" width="4" height="10" fill="none" stroke="#a02222"/>
<line x1="440.5" y1="292" x2="440.5" y2="296" stroke="#a02222"/>
<line x1="440.5" y1="297" x2="440.5" y2="300" stroke="#a02222"/>
<rect x="438" y="296" width="5" height="1" fill="#a02222"/>
<line x1="446.5" y1="281" x2="446.5" y2="283" stroke="#a02222"/>
<line x1="446.5" y1="294" x2="446.5" y2="305" stroke="#a02222"/>
<rect x="444.5" y="283.5" width="4" height="10" fill="none" stroke="#a02222"/>
<line x1="453.5" y1="283" x2="453.5" y2="284" stroke="#008000"/>
<rect x="451" y="284" width="5" height="15" fill="#008000"/>
<line x1="459.5" y1="293" x2="459.5" y2="297" stroke="#008000"/>
<line x1="459.5" y1="306" x2="459.5" y2="308" stroke="#008000"/>
<rect x="457" y="297" width="5" height="9" fill="#008000"/>
<line x1="465.5" y1="301" x2="465.5" y2="302" stroke="#a02222"/>
<rect x="463.5" y="302.5" width="4" height="5" fill="none" stroke="#a02222"/>
<line x1="471.5" y1="303" x2="471.5" y2="305" stroke="#008000"/>
<rect x="469" y="300" width="5" height="3" fill="#008000"/>
<line x1="477.5" y1="294" x2="477.5" y2="298" stroke="#a02222"/>
<line x1="477.5" y1="299" x2="477.5" y2="303" stroke="#a02222"/>
<rect x="475" y="298" width="5" height="1" fill="#a02222"/>
<line x1="484.5" y1="297" x2="484.5" y2="299" stroke="#a02222"/>
<line x1="484.5" y1="300" x2="484.5" y2="304" stroke="#a02222"/>
<rect x="482" y="299" width="5" height="1" fill="#a02222"/>
<line x1="490.5" y1="288" x2="490.5" y2="290" stroke="#a02222"/>
<line x1="490.5" y1="301" x2="490.5" y2="304" stroke="#a02222"/>
<rect x="488.5" y="290.5" width="4" height="10" fill="none" stroke="#a02222"/>
<line x1="496.5" y1="280" x2="496.5" y2="282" stroke="#a02222"/>
<line x1="496.5" y1="286" x2="496.5" y2="289" stroke="#a02222"/>
<rect x="494.5" y="282.5" width="4" height="3" fill="none" stroke="#a02222"/>
<line x1="502.5" y1="284" x2="502.5" y2="291" stroke="#008000"/>
<rect x="500" y="281" width="5" height="3" fill="#008000"/>
<line x1="508.5" y1="285" x2="508.5" y2="289" stroke="#008000"/>
<rect x="506" y="283" width="5" height="1" fill="#008000"/>
<line x1="514.5" y1="258" x2="514.5" y2="262" stroke="#a02222"/>
<line x1="514.5" y1="286" x2="514.5" y2="287" stroke="#a02222"/>
<rect x="512.5" y="262.5" width="4" height="23" fill="none" stroke="#a02222"/>
<line x1="521.5" y1="275" x2="521.5" y2="276" stroke="#008000"/>
<rect x="519" y="262" width="5" height="13" fill="#008000"/>
<line x1="527.5" y1="268" x2="527.5" y2="270" stroke="#a02222"/>
<line x1="527.5" y1="273" x2="527.5" y2="276" stroke="#a02222"/>
<rect x="525.5" y="270.5" width="4" height="2" fill="none" stroke="#a02222"/>
<line x1="533.5" y1="264" x2="533.5" y2="266" stroke="#a02222"/>
<line x1="533.5" y1="267" x2="533.5" y2="280" stroke="#a02222"/>
<rect x="531" y="266" width="5" height="1" fill="#a02222"/>
<line x1="539.5" y1="252" x2="539.5" y2="259" stroke="#a02222"/>
<line x1="539.5" y1="266" x2="539.5" y2="269" stroke="#a02222"/>
<rect x="537.5" y="259.5" width="4" height="6" fill="none" stroke="#a02222"/>
<line x1="545.5" y1="282" x2="545.5" y2="288" stroke="#008000"/>
<rect x="543" y="259" width="5" height="23" fill="#008000"/>
<line x1="551.5" y1="268" x2="551.5" y2="269" stroke="#a02222"/>
<rect x="549.5" y="269.5" width="4" height="7" fill="none" stroke="#a02222"/>
<line x1="558.5" y1="268" x2="558.5" y2="269" stroke="#a02222"/>
<rect x="556.5" y="256.5" width="4" height="11" fill="none" stroke="#a02222"/>
<line x1="564.5" y1="240" x2="564.5" y2="248" stroke="#a02222"/>
<line x1="564.5" y1="254" x2="564.5" y2="258" stroke="#a02222"/>
<rect x="562.5" y="248.5" width="4" height="5" fill="none" stroke="#a02222"/>
<line x1="570.5" y1="232" x2="570.5" y2="241" stroke="#a02222"/>
<line x1="570.5" y1="247" x2="570.5" y2="249" stroke="#a02222"/>
<rect x="568.5" y="241.5" width="4" height="5" fill="none" stroke="#a02222"/>
<line x1="576.5" y1="229" x2="576.5" y2="230" stroke="#008000"/>
<rect x="574" y="230" width="5" height="13" fill="#008000"/>
<line x1="582.5" y1="236" x2="582.5" y2="240" stroke="#a02222"/>
<line x1="582.5" y1="245" x2="582.5" y2="253" stroke="#a02222"/>
<rect x="580.5" y="240.5" width="4" height="4" fill="none" stroke="#a02222"/>
<line x1="588.5" y1="215" x2="588.5" y2="220" stroke="#a02222"/>
<line x1="588.5" y1="230" x2="588.5" y2="237" stroke="#a02222"/>
<rect x="586.5" y="220.5" width="4" height="9" fill="none" stroke="#a02222"/>
<line x1="595.5" y1="195" x2="595.5" y2="205" stroke="#a02222"/>
<line x1="595.5" y1="216" x2="595.5" y2="235" stroke="#a02222"/>
<rect x="593.5" y="205.5" width="4" height="10" fill="none" stroke="#a02222"/>
<line x1="601.5" y1="213" x2="601.5" y2="217" stroke="#008000"/>
<rect x="599" y="205" width="5" height="8" fill="#008000"/>
<line x1="607.5" y1="223" x2="607.5" y2="229" stroke="#008000"/>
<rect x="605" y="216" width="5" height="7" fill="#008000"/>
<line x1="613.5" y1="204" x2="613.5" y2="212" stroke="#a02222"/>
<line x1="613.5" y1="228" x2="613.5" y2="231" stroke="#a02222"/>
<rect x="611.5" y="212.5" width="4" height="15" fill="none" stroke="#a02222"/>
<line x1="619.5" y1="205" x2="619.5" y2="208" stroke="#008000"/>
<rect x="617" y="208" width="5" height="25" fill="#008000"/>
<line x1="626.5" y1="225" x2="626.5" y2="227" stroke="#a02222"/>
<line x1="626.5" y1="232" x2="626.5" y2="241" stroke="#a02222"/>
<rect x="624.5" y="227.5" width="4" height="4" fill="none" stroke="#a02222"/>
<line x1="632.5" y1="223" x2="632.5" y2="226" stroke="#a02222"/>
<rect x="630.5" y="226.5" width="4" height="2" fill="none" stroke="#a02222"/>
<line x1="638.5" y1="232" x2="638.5" y2="234" stroke="#008000"/>
<rect x="636" y="226" width="5" height="6" fill="#008000"/>
<line x1="644.5" y1="245" x2="644.5" y2="247" stroke="#a02222"/>
<rect x="642.5" y="228.5" width="4" height="16" fill="none" stroke="#a02222"/>
<line x1="650.5" y1="215" x2="650.5" y2="223" stroke="#a02222"/>
<rect x="648.5" y="223.5" width="4" height="4" fill="none" stroke="#a02222"/>
<line x1="656.5" y1="210" x2="656.5" y2="214" stroke="#a02222"/>
<line x1="656.5" y1="222" x2="656.5" y2="225" stroke="#a02222"/>
<rect x="654.5" y="214.5" width="4" height="7" fill="none" stroke="#a02222"/>
<line x1="663.5" y1="221" x2="663.5" y2="232" stroke="#008000"/>
<rect x="661" y="213" width="5" height="8" fill="#008000"/>
<line x1="669.5" y1="193" x2="669.5" y2="198" stroke="#a02222"/>
<rect x="667.5" y="198.5" width="4" height="18" fill="none" stroke="#a02222"/>
<line x1="675.5" y1="187" x2="675.5" y2="194" stroke="#008000"/>
<line x1="675.5" y1="196" x2="675.5" y2="199" stroke="#008000"/>
<rect x="673" y="194" width="5" height="1" fill="#008000"/>
<line x1="681.5" y1="195" x2="681.5" y2="203" stroke="#008000"/>
<rect x="679" y="193" width="5" height="1" fill="#008000"/>
<line x1="687.5" y1="208" x2="687.5" y2="230" stroke="#008000"/>
<rect x="685" y="230" width="5" height="1" fill="#008000"/>
<line x1="693.5" y1="228" x2="693.5" y2="235" stroke="#a02222"/>
<line x1="693.5" y1="239" x2="693.5" y2="264" stroke="#a02222"/>
<rect x="691.5" y="235.5" width="4" height="3" fill="none" stroke="#a02222"/>
<line x1="700.5" y1="266" x2="700.5" y2="267" stroke="#008000"/>
<rect x="698" y="235" width="5" height="31" fill="#008000"/>
<line x1="706.5" y1="253" x2="706.5" y2="258" stroke="#008000"/>
<line x1="706.5" y1="283" x2="706.5" y2="285" stroke="#008000"/>
<rect x="704" y="258" width="5" height="25" fill="#008000"/>
<line x1="712.5" y1="281" x2="712.5" y2="302" stroke="#a02222"/>
<rect x="710.5" y="263.5" width="4" height="17" fill="none" stroke="#a02222"/>
<line x1="718.5" y1="256" x2="718.5" y2="261" stroke="#008000"/>
<line x1="718.5" y1="262" x2="718.5" y2="271" stroke="#008000"/>
<rect x="716" y="261" width="5" height="1" fill="#008000"/>
<line x1="724.5" y1="247" x2="724.5" y2="249" stroke="#a02222"/>
<rect x="722.5" y="249.5" width="4" height="11" fill="none" stroke="#a02222"/>
<line x1="731.5" y1="237" x2="731.5" y2="242" stroke="#a02222"/>
<line x1="731.5" y1="247" x2="731.5" y2="252" stroke="#a02222"/>
<rect x="729.5" y="242.5" width="4" height="4" fill="none" stroke="#a02222"/>
<line x1="737.5" y1="215" x2="737.5" y2="218" stroke="#a02222"/>
<line x1="737.5" y1="233" x2="737.5" y2="238" stroke="#a02222"/>
<rect x="735.5" y="218.5" width="4" height="14" fill="none" stroke="#a02222"/>
<line x1="743.5" y1="213" x2="743.5" y2="220" stroke="#a02222"/>
<rect x="741.5" y="189.5" width="4" height="23" fill="none" stroke="#a02222"/>
<line x1="749.5" y1="178" x2="749.5" y2="186" stroke="#008000"/>
<line x1="749.5" y1="188" x2="749.5" y2="195" stroke="#008000"/>
<rect x="747" y="186" width="5" height="1" fill="#008000"/>
<line x1="755.5" y1="168" x2="755.5" y2="180" stroke="#a02222"/>
<line x1="755.5" y1="189" x2="755.5" y2="198" stroke="#a02222"/>
<rect x="753.5" y="180.5" width="4" height="8" fill="none" stroke="#a02222"/>
<line x1="761.5" y1="173" x2="761.5" y2="178" stroke="#a02222"/>
<rect x="759.5" y="178.5" width="4" height="7" fill="none" stroke="#a02222"/>
<line x1="768.5" y1="146" x2="768.5" y2="151" stroke="#a02222"/>
<rect x="766.5" y="151.5" width="4" height="17" fill="none" stroke="#a02222"/>
<line x1="774.5" y1="156" x2="774.5" y2="160" stroke="#008000"/>
<line x1="774.5" y1="170" x2="774.5" y2="171" stroke="#008000"/>
<rect x="772" y="160" width="5" height="10" fill="#008000"/>
<line x1="780.5" y1="152" x2="780.5" y2="172" stroke="#008000"/>
<line x1="780.5" y1="177" x2="780.5" y2="182" stroke="#008000"/>
<rect x="778" y="172" width="5" height="5" fill="#008000"/>
<line x1="786.5" y1="168" x2="786.5" y2="179" stroke="#008000"/>
<line x1="786.5" y1="185" x2="786.5" y2="193" stroke="#008000"/>
<rect x="784" y="179" width="5" height="6" fill="#008000"/>
<line x1="792.5" y1="205" x2="792.5" y2="220" stroke="#008000"/>
<rect x="790" y="187" width="5" height="18" fill="#008000"/>
<line x1="798.5" y1="189" x2="798.5" y2="204" stroke="#008000"/>
<line x1="798.5" y1="210" x2="798.5" y2="215" stroke="#008000"/>
<rect x="796" y="204" width="5" height="6" fill="#008000"/>
<line x1="805.5" y1="216" x2="805.5" y2="220" stroke="#a02222"/>
<rect x="803.5" y="193.5" width="4" height="22" fill="none" stroke="#a02222"/>
<line x1="811.5" y1="192" x2="811.5" y2="194" stroke="#a02222"/>
<rect x="809.5" y="180.5" width="4" height="11" fill="none" stroke="#a02222"/>
<line x1="817.5" y1="213" x2="817.5" y2="214" stroke="#008000"/>
<rect x="815" y="180" width="5" height="33" fill="#008000"/>
<line x1="823.5" y1="201" x2="823.5" y2="211" stroke="#a02222"/>
<rect x="821.5" y="211.5" width="4" height="19" fill="none" stroke="#a02222"/>
<line x1="829.5" y1="202" x2="829.5" y2="210" stroke="#a02222"/>
<line x1="829.5" y1="212" x2="829.5" y2="221" stroke="#a02222"/>
<rect x="827" y="210" width="5" height="1" fill="#a02222"/>
<line x1="835.5" y1="199" x2="835.5" y2="203" stroke="#a02222"/>
<line x1="835.5" y1="204" x2="835.5" y2="216" stroke="#a02222"/>
<rect x="833" y="203" width="5" height="1" fill="#a02222"/>
<line x1="842.5" y1="211" x2="842.5" y2="216" stroke="#008000"/>
<rect x="840" y="202" width="5" height="9" fill="#008000"/>
<rect x="846" y="214" width="5" height="29" fill="#008000"/>
<line x1="854.5" y1="243" x2="854.5" y2="249" stroke="#a02222"/>
<rect x="852.5" y="226.5" width="4" height="16" fill="none" stroke="#a02222"/>
<line x1="860.5" y1="204" x2="860.5" y2="208" stroke="#a02222"/>
<line x1="860.5" y1="219" x2="860.5" y2="222" stroke="#a02222"/>
<rect x="858.5" y="208.5" width="4" height="10" fill="none" stroke="#a02222"/>
<rect x="864" y="208" width="5" height="9" fill="#008000"/>
<line x1="873.5" y1="210" x2="873.5" y2="213" stroke="#a02222"/>
<line x1="873.5" y1="217" x2="873.5" y2="220" stroke="#a02222"/>
<rect x="871.5" y="213.5" width="4" height="3" fill="none" stroke="#a02222"/>
<line x1="879.5" y1="213" x2="879.5" y2="220" stroke="#a02222"/>
<rect x="877.5" y="208.5" width="4" height="4" fill="none" stroke="#a02222"/>
<line x1="885.5" y1="207" x2="885.5" y2="208" stroke="#008000"/>
<rect x="883" y="208" width="5" height="3" fill="#008000"/>
<line x1="891.5" y1="210" x2="891.5" y2="211" stroke="#008000"/>
<rect x="889" y="211" width="5" height="12" fill="#008000"/>
<line x1="897.5" y1="205" x2="897.5" y2="210" stroke="#a02222"/>
<line x1="897.5" y1="224" x2="897.5" y2="225" stroke="#a02222"/>
<rect x="895.5" y="210.5" width="4" height="13" fill="none" stroke="#a02222"/>
<line x1="903.5" y1="178" x2="903.5" y2="187" stroke="#a02222"/>
<rect x="901.5" y="187.5" width="4" height="20" fill="none" stroke="#a02222"/>
<line x1="910.5" y1="181" x2="910.5" y2="188" stroke="#008000"/>
<line x1="910.5" y1="193" x2="910.5" y2="197" stroke="#008000"/>
<rect x="908" y="188" width="5" height="5" fill="#008000"/>
<line x1="916.5" y1="167" x2="916.5" y2="172" stroke="#a02222"/>
<rect x="914.5" y="172.5" width="4" height="23" fill="none" stroke="#a02222"/>
<line x1="922.5" y1="148" x2="922.5" y2="161" stroke="#a02222"/>
<rect x="920.5" y="161.5" width="4" height="4" fill="none" stroke="#a02222"/>
<line x1="928.5" y1="142" x2="928.5" y2="151" stroke="#008000"/>
<line x1="928.5" y1="153" x2="928.5" y2="160" stroke="#008000"/>
<rect x="926" y="151" width="5" height="1" fill="#008000"/>
<line x1="934.5" y1="141" x2="934.5" y2="145" stroke="#008000"/>
<rect x="932" y="126" width="5" height="15" fill="#008000"/>
<line x1="940.5" y1="134" x2="940.5" y2="142" stroke="#a02222"/>
<line x1="940.5" y1="145" x2="940.5" y2="150" stroke="#a02222"/>
<rect x="938.5" y="142.5" width="4" height="2" fill="none" stroke="#a02222"/>
<line x1="947.5" y1="119" x2="947.5" y2="125" stroke="#a02222"/>
<line x1="947.5" y1="143" x2="947.5" y2="148" stroke="#a02222"/>
<rect x="945.5" y="125.5" width="4" height="17" fill="none" stroke="#a02222"/>
<line x1="953.5" y1="111" x2="953.5" y2="123" stroke="#008000"/>
<line x1="953.5" y1="124" x2="953.5" y2="128" stroke="#008000"/>
<rect x="951" y="123" width="5" height="1" fill="#008000"/>
<line x1="959.5" y1="122" x2="959.5" y2="124" stroke="#008000"/>
<rect x="957" y="124" width="5" height="29" fill="#008000"/>
<line x1="965.5" y1="133" x2="965.5" y2="135" stroke="#a02222"/>
<line x1="965.5" y1="146" x2="965.5" y2="152" stroke="#a02222"/>
<rect x="963.5" y="135.5" width="4" height="10" fill="none" stroke="#a02222"/>
<line x1="971.5" y1="125" x2="971.5" y2="129" stroke="#008000"/>
<line x1="971.5" y1="134" x2="971.5" y2="143" stroke="#008000"/>
<rect x="969" y="129" width="5" height="5" fill="#008000"/>
<line x1="978.5" y1="131" x2="978.5" y2="137" stroke="#a02222"/>
<rect x="976.5" y="105.5" width="4" height="25" fill="none" stroke="#a02222"/>
<line x1="984.5" y1="100" x2="984.5" y2="106" stroke="#008000"/>
<line x1="984.5" y1="109" x2="984.5" y2="112" stroke="#008000"/>
<rect x="982" y="106" width="5" height="3" fill="#008000"/>
<line x1="990.5" y1="103" x2="990.5" y2="109" stroke="#008000"/>
<line x1="990.5" y1="120" x2="990.5" y2="134" stroke="#008000"/>
<rect x="988" y="109" width="5" height="11" fill="#008000"/>
<line x1="996.5" y1="107" x2="996.5" y2="116" stroke="#a02222"/>
<line x1="996.5" y1="123" x2="996.5" y2="127" stroke="#a02222"/>
<rect x="994.5" y="116.5" width="4" height="6" fill="none" stroke="#a02222"/>
<line x1="1002.5" y1="129" x2="1002.5" y2="146" stroke="#008000"/>
<rect x="1000" y="114" width="5" height="15" fill="#008000"/>
<line x1="1008.5" y1="137" x2="1008.5" y2="146" stroke="#008000"/>
<rect x="1006" y="131" width="5" height="6" fill="#008000"/>
<line x1="1015.5" y1="131" x2="1015.5" y2="135" stroke="#a02222"/>
<line x1="1015.5" y1="141" x2="1015.5" y2="145" stroke="#a02222"/>
<rect x="1013.5" y="135.5" width="4" height="5" fill="none" stroke="#a02222"/>
<line x1="1021.5" y1="124" x2="1021.5" y2="130" stroke="#008000"/>
<line x1="1021.5" y1="134" x2="1021.5" y2="146" stroke="#008000"/>
<rect x="1019" y="130" width="5" height="4" fill="#008000"/>
<line x1="1027.5" y1="137" x2="1027.5" y2="139" stroke="#008000"/>
<line x1="1027.5" y1="140" x2="1027.5" y2="148" stroke="#008000"/>
<rect x="1025" y="139" width="5" height="1" fill="#008000"/>
<line x1="1033.5" y1="131" x2="1033.5" y2="136" stroke="#a02222"/>
<line x1="1033.5" y1="143" x2="1033.5" y2="146" stroke="#a02222"/>
<rect x="1031.5" y="136.5" width="4" height="6" fill="none" stroke="#a02222"/>
<line x1="1039.5" y1="94" x2="1039.5" y2="96" stroke="#a02222"/>
<line x1="1039.5" y1="125" x2="1039.5" y2="127" stroke="#a02222"/>
<rect x="1037.5" y="96.5" width="4" height="28" fill="none" stroke="#a02222"/>
<line x1="1045.5" y1="56" x2="1045.5" y2="79" stroke="#a02222"/>
<line x1="1045.5" y1="87" x2="1045.5" y2="93" stroke="#a02222"/>
<rect x="1043.5" y="79.5" width="4" height="7" fill="none" stroke="#a02222"/>
<line x1="1052.5" y1="66" x2="1052.5" y2="74" stroke="#a02222"/>
<line x1="1052.5" y1="87" x2="1052.5" y2="93" stroke="#a02222"/>
<rect x="1050.5" y="74.5" width="4" height="12" fill="none" stroke="#a02222"/>
<line x1="1058.5" y1="57" x2="1058.5" y2="62" stroke="#a02222"/>
<rect x="1056.5" y="62.5" width="4" height="14" fill="none" stroke="#a02222"/>
<line x1="1064.5" y1="54" x2="1064.5" y2="56" stroke="#008000"/>
<line x1="1064.5" y1="61" x2="1064.5" y2="75" stroke="#008000"/>
<rect x="1062" y="56" width="5" height="5" fill="#008000"/>
<line x1="1070.5" y1="46" x2="1070.5" y2="56" stroke="#a02222"/>
<line x1="1070.5" y1="61" x2="1070.5" y2="67" stroke="#a02222"/>
<rect x="1068.5" y="56.5" width="4" height="4" fill="none" stroke="#a02222"/>
<line x1="1076.5" y1="43" x2="1076.5" y2="60" stroke="#008000"/>
<rect x="1074" y="60" width="5" height="8" fill="#008000"/>
<line x1="1082.5" y1="70" x2="1082.5" y2="73" stroke="#008000"/>
<line x1="1082.5" y1="80" x2="1082.5" y2="84" stroke="#008000"/>
<rect x="1080" y="73" width="5" height="7" fill="#008000"/>
<line x1="1089.5" y1="39" x2="1089.5" y2="52" stroke="#a02222"/>
<line x1="1089.5" y1="71" x2="1089.5" y2="80" stroke="#a02222"/>
<rect x="1087.5" y="52.5" width="4" height="18" fill="none" stroke="#a02222"/>
<line x1="1095.5" y1="40" x2="1095.5" y2="44" stroke="#a02222"/>
<line x1="1095.5" y1="47" x2="1095.5" y2="54" stroke="#a02222"/>
<rect x="1093.5" y="44.5" width="4" height="2" fill="none" stroke="#a02222"/>
<line x1="1101.5" y1="39" x2="1101.5" y2="42" stroke="#008000"/>
<line x1="1101.5" y1="50" x2="1101.5" y2="57" stroke="#008000"/>
<rect x="1099" y="42" width="5" height="8" fill="#008000"/>
<line x1="1107.5" y1="44" x2="1107.5" y2="49" stroke="#008000"/>
<line x1="1107.5" y1="57" x2="1107.5" y2="58" stroke="#008000"/>
<rect x="1105" y="49" width="5" height="8" fill="#008000"/>
<line x1="1113.5" y1="53" x2="1113.5" y2="58" stroke="#008000"/>
<line x1="1113.5" y1="64" x2="1113.5" y2="71" stroke="#008000"/>
<rect x="1111" y="58" width="5" height="6" fill="#008000"/>
<line x1="1120.5" y1="59" x2="1120.5" y2="65" stroke="#a02222"/>
<rect x="1118.5" y="52.5" width="4" height="6" fill="none" stroke="#a02222"/>
<line x1="1126.5" y1="53" x2="1126.5" y2="56" stroke="#008000"/>
<line x1="1126.5" y1="70" x2="1126.5" y2="71" stroke="#008000"/>
<rect x="1124" y="56" width="5" height="14" fill="#008000"/>
<line x1="1132.5" y1="61" x2="1132.5" y2="66" stroke="#a02222"/>
<rect x="1130.5" y="66.5" width="4" height="16" fill="none" stroke="#a02222"/>
<line x1="1138.5" y1="45" x2="1138.5" y2="56" stroke="#a02222"/>
<line x1="1138.5" y1="65" x2="1138.5" y2="73" stroke="#a02222"/>
<rect x="1136.5" y="56.5" width="4" height="8" fill="none" stroke="#a02222"/>
<line x1="1144.5" y1="9" x2="1144.5" y2="19" stroke="#a02222"/>
<rect x="1142.5" y="19.5" width="4" height="40" fill="none" stroke="#a02222"/>
<line x1="1150.5" y1="12" x2="1150.5" y2="14" stroke="#008000"/>
<line x1="1150.5" y1="26" x2="1150.5" y2="44" stroke="#008000"/>
<rect x="1148" y="14" width="5" height="12" fill="#008000"/>
<line x1="1157.5" y1="16" x2="1157.5" y2="22" stroke="#008000"/>
<line x1="1157.5" y1="23" x2="1157.5" y2="37" stroke="#008000"/>
<rect x="1155" y="22" width="5" height="1" fill="#008000"/>
<line x1="1163.5" y1="12" x2="1163.5" y2="20" stroke="#a02222"/>
<line x1="1163.5" y1="24" x2="1163.5" y2="28" stroke="#a02222"/>
<rect x="1161.5" y="20.5" width="4" height="3" fill="none" stroke="#a02222"/>
<line x1="1169.5" y1="-2" x2="1169.5" y2="15" stroke="#a02222"/>
<line x1="1169.5" y1="20" x2="1169.5" y2="21" stroke="#a02222"/>
<rect x="1167.5" y="15.5" width="4" height="4" fill="none" stroke="#a02222"/>
<line x1="1175.5" y1="19" x2="1175.5" y2="24" stroke="#008000"/>
<line x1="1175.5" y1="39" x2="1175.5" y2="42" stroke="#008000"/>
<rect x="1173" y="24" width="5" height="15" fill="#008000"/>
<line x1="1181.5" y1="25" x2="1181.5" y2="36" stroke="#a02222"/>
<line x1="1181.5" y1="39" x2="1181.5" y2="47" stroke="#a02222"/>
<rect x="1179.5" y="36.5" width="4" height="2" fill="none" stroke="#a02222"/>
<line x1="1187.5" y1="21" x2="1187.5" y2="29" stroke="#a02222"/>
<line x1="1187.5" y1="38" x2="1187.5" y2="42" stroke="#a02222"/>
<rect x="1185.5" y="29.5" width="4" height="8" fill="none" stroke="#a02222"/>
<line x1="1194.5" y1="10" x2="1194.5" y2="27" stroke="#a02222"/>
<line x1="1194.5" y1="31" x2="1194.5" y2="32" stroke="#a02222"/>
<rect x="1192.5" y="27.5" width="4" height="3" fill="none" stroke="#a02222"/>
<rect x="1198" y="27" width="5" height="29" fill="#008000"/>
</g>
<g stroke="#10108a" fill="none"><line x1="29" y1="435" x2="37" y2="431.5"/><line x1="37" y1="431.5" x2="47" y2="431.5" stroke-dasharray="4 2"/></g>
<text x="48" y="433" font-family="Liberation Sans, sans-serif" font-size="10.5" fill="#10108a" textLength="37" lengthAdjust="spacingAndGlyphs">6.6100</text>
<line x1="1176" y1="0.5" x2="1188.5" y2="3.5" stroke="#141460"/>
<text x="1190" y="14" font-family="Liberation Sans, sans-serif" font-size="11" fill="#141450">30.85</text>
<g font-family="Liberation Sans, sans-serif" font-size="11" fill="#202020" text-anchor="end">
<text x="3.5" y="451.6">7</text>
<text x="3.5" y="478">21</text>
<text x="3.5" y="498">18</text>
<text x="3.5" y="518">14</text>
</g>
<polygon points="1030,457 1037,457 1033.5,453" fill="#000"/>
<g shape-rendering="crispEdges">
<rect x="0" y="534" width="1200" height="1" fill="#a4a8a4"/>
<rect x="0" y="535" width="1200" height="1" fill="#c4c8c4"/>
<rect x="0" y="536" width="1200" height="1" fill="#ffffff"/>
<rect x="0" y="537" width="1200" height="1" fill="#a0a0a0"/>
<rect x="0" y="538" width="1200" height="12" fill="#f0ece2"/>
<rect x="405" y="538" width="723" height="12" fill="#808080"/>
<rect x="407" y="540" width="721" height="10" fill="#ffffff"/>
<rect x="1128" y="538" width="17" height="12" fill="#c4d0e4"/>
<rect x="1128" y="546" width="17" height="1" fill="#8898b8"/>
<polygon points="1133,544 1139,544 1136,541" fill="#203070"/>
</g>
<text x="-2" y="550.6" font-family="Liberation Sans, sans-serif" font-size="11.2" fill="#801414" lengthAdjust="spacingAndGlyphs" textLength="24.5">6.96</text>
<polygon points="29,550 38,550 33.5,541" fill="#ff0000"/>
<text x="40.5" y="550.6" font-family="Liberation Sans, sans-serif" font-size="11.2" fill="#801414" lengthAdjust="spacingAndGlyphs" textLength="24">8.62</text>
<text x="69" y="550.6" font-family="Liberation Sans, sans-serif" font-size="11.2" fill="#801414" lengthAdjust="spacingAndGlyphs" textLength="35">0.42%</text>
<text x="110" y="550.6" font-family="Liberation Sans, sans-serif" font-size="11.2" fill="#801414" lengthAdjust="spacingAndGlyphs" textLength="40">862.54</text>
<text x="150" y="553" font-family="Noto Sans CJK SC, sans-serif" font-size="12" fill="#301010">亿</text>
<circle cx="197" cy="546" r="7.5" fill="#d01010"/>
<text x="197" y="551" font-family="Noto Sans CJK SC, sans-serif" font-size="10" fill="#ffd040" text-anchor="middle">深</text>
<text x="210" y="550.6" font-family="Liberation Sans, sans-serif" font-size="11.2" fill="#801414" lengthAdjust="spacingAndGlyphs" textLength="44">7206.97</text>
<polygon points="260.4,550 268.6,550 264.5,541.3" fill="#ff0000"/>
<text x="271" y="550.6" font-family="Liberation Sans, sans-serif" font-size="11.2" fill="#801414" lengthAdjust="spacingAndGlyphs" textLength="31">47.34</text>
<text x="307" y="550.6" font-family="Liberation Sans, sans-serif" font-size="11.2" fill="#801414" lengthAdjust="spacingAndGlyphs" textLength="36">0.66%</text>
<text x="348" y="550.6" font-family="Liberation Sans, sans-serif" font-size="11.2" fill="#801414" lengthAdjust="spacingAndGlyphs" textLength="48">1212.54</text>
<text x="396" y="553" font-family="Noto Sans CJK SC, sans-serif" font-size="12" fill="#301010">亿</text>
<text x="759.5" y="554.8" font-family="Liberation Sans, Noto Sans CJK SC, sans-serif" font-size="13.2" fill="#b01818" textLength="166" lengthAdjust="spacingAndGlyphs">07月11号赢家早盘题材汇总</text>
<text x="954" y="554.8" font-family="Liberation Sans, Noto Sans CJK SC, sans-serif" font-size="13.2" fill="#b01818" textLength="141" lengthAdjust="spacingAndGlyphs">7.11号游资和机构龙虎榜</text>
<g fill="none" stroke="#d02020" stroke-width="1"><path d="M1150,546 a4,4 0 0 1 0,-6"/><path d="M1157,540 a4,4 0 0 1 0,6"/><path d="M1148,548 a7,7 0 0 1 0,-10"/><path d="M1159,538 a7,7 0 0 1 0,10"/></g>
<g stroke="#202080" stroke-width="1.2"><line x1="1153.5" y1="541" x2="1151" y2="550"/><line x1="1153.5" y1="541" x2="1156" y2="550"/></g>
<text x="1166" y="556" font-family="Liberation Sans, sans-serif" font-size="14" fill="#101010">SZ1659</text>
<text x="1045" y="537" font-family="Noto Serif CJK SC, serif" font-size="28" fill="none" stroke="#e01818" stroke-width="0.6" textLength="152" lengthAdjust="spacingAndGlyphs">赢家财富网</text>
</svg>
</body></html>
